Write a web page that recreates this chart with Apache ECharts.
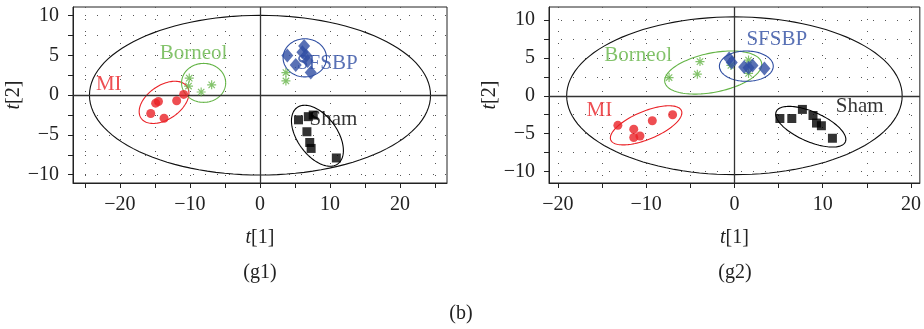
<!DOCTYPE html>
<html>
<head>
<meta charset="utf-8">
<script src="https://cdn.jsdelivr.net/npm/echarts@6/dist/echarts.min.js"></script>
<style>
  html, body { margin: 0; padding: 0; background: #fff; }
  #main { width: 924px; height: 329px; }
</style>
</head>
<body>
<div id="main"></div>
<script>
// ---- data ----
// (g1)
var g1MI      = [[-14.9, -1.0], [-14.5, -0.8], [-15.6, -2.3], [-13.7, -2.9], [-11.9, -0.7], [-10.9, 0.1]];
var g1Borneol = [[-10.1, 2.15], [-10.2, 1.15], [-8.4, 0.4], [-6.9, 1.3], [3.7, 2.85], [3.7, 1.8]];
var g1SFSBP   = [[3.9, 5.0], [5.1, 3.8], [6.3, 6.2], [6.05, 5.4], [6.8, 4.3], [7.25, 2.85], [6.6, 5.0]];
var g1Sham    = [[5.5, -3.1], [6.9, -2.7], [7.6, -2.5], [6.7, -4.6], [7.1, -5.95], [7.3, -6.7], [10.9, -7.9]];
// (g2)
var g2MI      = [[-13.2, -3.9], [-11.4, -4.4], [-11.4, -5.5], [-10.7, -5.3], [-9.3, -3.3], [-7.0, -2.5]];
var g2Borneol = [[-7.4, 2.4], [-3.9, 4.5], [-4.2, 2.85], [-0.4, 4.0], [1.6, 4.7], [1.6, 2.95]];
var g2SFSBP   = [[-0.6, 4.9], [-0.3, 4.4], [1.1, 3.8], [2.05, 4.0], [1.6, 3.7], [3.4, 3.6]];
var g2Sham    = [[5.15, -3.0], [6.5, -3.0], [7.7, -1.8], [8.9, -2.6], [9.3, -3.6], [9.85, -3.95], [11.1, -5.6]];

// ellipses: [cx, cy, semiA, semiB, angleDeg]
var g1Hotelling = [0, 0, 24.35, 10.05, 0];
var g1Ellipses  = [[-13.7, -0.9, 3.85, 2.2, 28], [-8.05, 1.55, 3.15, 2.45, 0], [6.4, 4.7, 3.1, 2.4, 0], [8.2, -5.1, 4.6, 2.7, -47]];
var g2Hotelling = [0, 0, 19.0, 10.4, 0];
var g2Ellipses  = [[-10.0, -3.9, 4.45, 1.8, 27], [-2.4, 3.06, 5.63, 2.57, 14], [1.35, 3.9, 3.05, 2.0, 0], [8.65, -4.08, 4.4, 1.9, -28.5]];

// group labels: [x, y]
var groupNames = ['MI', 'Borneol', 'SFSBP', 'Sham'];
var g1LabelPos = [[-21.6, 1.3], [-9.5, 5.2], [9.6, 4.0], [10.5, -3.1]];
var g2LabelPos = [[-15.3, -1.9], [-10.9, 5.25], [4.8, 7.45], [14.2, -1.45]];

// axes
var g1XRange = [-26.7, 26.7], g1YRange = [-11.05, 11.1];
var g2XRange = [-21, 21],     g2YRange = [-11.5, 11.7];
var g1XTicks = [-25, -20, -15, -10, -5, 0, 5, 10, 15, 20, 25];
var g2XTicks = [-20, -15, -10, -5, 0, 5, 10, 15, 20];
var xLabels  = [-20, -10, 0, 10, 20];
var yTicks   = [-10, -7.5, -5, -2.5, 0, 2.5, 5, 7.5, 10];
var yLabels  = [-10, -5, 0, 5, 10];

// ---- styling ----
var FONT = '"Liberation Serif", "DejaVu Serif", serif';
var colors = { MI: '#ea2227', Borneol: '#64b446', SFSBP: '#2f4ea2', Sham: '#000000' };
var groupColors = [colors.MI, colors.Borneol, colors.SFSBP, colors.Sham];

// asterisk symbol made of four thin bars
function asteriskPath() {
  var d = '';
  for (var k = 0; k < 4; k++) {
    var a = k * Math.PI / 4, c = Math.cos(a), s = Math.sin(a);
    var L = 10, W = 1.3;
    var pts = [[-L, -W], [L, -W], [L, W], [-L, W]].map(function (p) {
      return [(p[0] * c - p[1] * s).toFixed(2), (p[0] * s + p[1] * c).toFixed(2)];
    });
    d += 'M' + pts[0].join(',') + 'L' + pts[1].join(',') + 'L' + pts[2].join(',') + 'L' + pts[3].join(',') + 'Z';
  }
  return 'path://' + d;
}
var ASTERISK = asteriskPath();

function fmt(v) {
  return v < 0 ? '\u2212' + Math.abs(v) : String(v);
}

function renderEllipse(params, api) {
  var cx = api.value(0), cy = api.value(1), a = api.value(2), b = api.value(3);
  var th = api.value(4) * Math.PI / 180;
  var pts = [];
  for (var i = 0; i <= 120; i++) {
    var t = i / 120 * Math.PI * 2;
    var ex = a * Math.cos(t), ey = b * Math.sin(t);
    pts.push(api.coord([cx + ex * Math.cos(th) - ey * Math.sin(th), cy + ex * Math.sin(th) + ey * Math.cos(th)]));
  }
  return {
    type: 'polyline',
    shape: { points: pts },
    style: { fill: null, stroke: api.visual('color'), lineWidth: 1.1 }
  };
}

function makeAxes(idx, xRange, yRange, xTicks) {
  var nameStyle = { color: '#222', fontFamily: FONT, fontSize: 20, rich: { i: { fontStyle: 'italic', fontFamily: FONT, fontSize: 20, color: '#222' } } };
  var common = {
    gridIndex: idx,
    type: 'value',
    axisLine: { show: true, onZero: false, lineStyle: { color: '#222', width: 1 } },
    axisTick: { show: true, inside: false, length: 5, lineStyle: { color: '#222' } },
    splitLine: { show: true, lineStyle: { color: '#555', width: 1, type: [1, 11] } },
    axisLabel: { color: '#222', fontFamily: FONT, fontSize: 20, formatter: fmt }
  };
  var x = echarts.util.merge({
    min: xRange[0], max: xRange[1],
    name: '{i|t}[1]', nameLocation: 'middle', nameGap: 45, nameTextStyle: nameStyle,
    axisTick: { customValues: xTicks },
    axisLabel: { customValues: xLabels, margin: 12 }
  }, common, false);
  var y = echarts.util.merge({
    min: yRange[0], max: yRange[1],
    name: '{i|t}[2]', nameLocation: 'middle', nameGap: 43, nameTextStyle: nameStyle,
    axisTick: { customValues: yTicks },
    axisLabel: { customValues: yLabels, margin: 14 }
  }, common, false);
  return [x, y];
}

function panelSeries(idx, mi, borneol, sfsbp, sham, hotelling, ellipses, labelPos) {
  var base = { xAxisIndex: idx, yAxisIndex: idx, silent: true, animation: false };
  var list = [];
  // hotelling ellipse + zero lines
  list.push(Object.assign({}, base, {
    type: 'custom', renderItem: renderEllipse, itemStyle: { color: '#111' },
    data: [hotelling], z: 3,
    markLine: {
      symbol: 'none', silent: true, label: { show: false },
      lineStyle: { color: '#333', width: 1.3, type: 'solid' },
      data: [{ xAxis: 0 }, { yAxis: 0 }]
    }
  }));
  list.push(Object.assign({}, base, {
    type: 'custom', renderItem: renderEllipse, z: 4,
    data: ellipses.map(function (e, i) { return { value: e, itemStyle: { color: groupColors[i] } }; })
  }));
  list.push(Object.assign({}, base, { type: 'scatter', name: 'MI', data: mi, symbol: 'circle', symbolSize: 9, itemStyle: { color: colors.MI }, z: 5 }));
  list.push(Object.assign({}, base, { type: 'scatter', name: 'Borneol', data: borneol, symbol: ASTERISK, symbolSize: 9, itemStyle: { color: colors.Borneol }, z: 5 }));
  list.push(Object.assign({}, base, { type: 'scatter', name: 'SFSBP', data: sfsbp, symbol: 'diamond', symbolSize: [12, 14], itemStyle: { color: colors.SFSBP }, z: 5 }));
  list.push(Object.assign({}, base, { type: 'scatter', name: 'Sham', data: sham, symbol: 'rect', symbolSize: 9, itemStyle: { color: colors.Sham }, z: 5 }));
  // group labels
  list.push(Object.assign({}, base, {
    type: 'scatter', symbolSize: 0, z: 6,
    data: labelPos.map(function (p, i) {
      return {
        value: p,
        label: { show: true, position: 'inside', formatter: groupNames[i], color: groupColors[i], fontFamily: FONT, fontSize: 21 }
      };
    })
  }));
  return list;
}

var chart = echarts.init(document.getElementById('main'), null, { renderer: 'canvas' });
var ax1 = makeAxes(0, g1XRange, g1YRange, g1XTicks);
var ax2 = makeAxes(1, g2XRange, g2YRange, g2XTicks);

var option = {
  backgroundColor: '#fff',
  animation: false,
  grid: [
    { left: 73, top: 7, width: 374, height: 176, show: true, borderColor: '#222', borderWidth: 1, backgroundColor: 'transparent' },
    { left: 549, top: 7, width: 372, height: 176, show: true, borderColor: '#222', borderWidth: 1, backgroundColor: 'transparent' }
  ],
  xAxis: [ax1[0], ax2[0]],
  yAxis: [ax1[1], ax2[1]],
  graphic: [
    { type: 'text', x: 260, y: 273, style: { text: '(g1)', font: '20px ' + FONT, fill: '#222', textAlign: 'center', textVerticalAlign: 'middle' } },
    { type: 'text', x: 735, y: 273, style: { text: '(g2)', font: '20px ' + FONT, fill: '#222', textAlign: 'center', textVerticalAlign: 'middle' } },
    { type: 'text', x: 461, y: 314, style: { text: '(b)', font: '20px ' + FONT, fill: '#222', textAlign: 'center', textVerticalAlign: 'middle' } }
  ],
  series: panelSeries(0, g1MI, g1Borneol, g1SFSBP, g1Sham, g1Hotelling, g1Ellipses, g1LabelPos)
    .concat(panelSeries(1, g2MI, g2Borneol, g2SFSBP, g2Sham, g2Hotelling, g2Ellipses, g2LabelPos))
};
chart.setOption(option);
</script>
</body>
</html>
